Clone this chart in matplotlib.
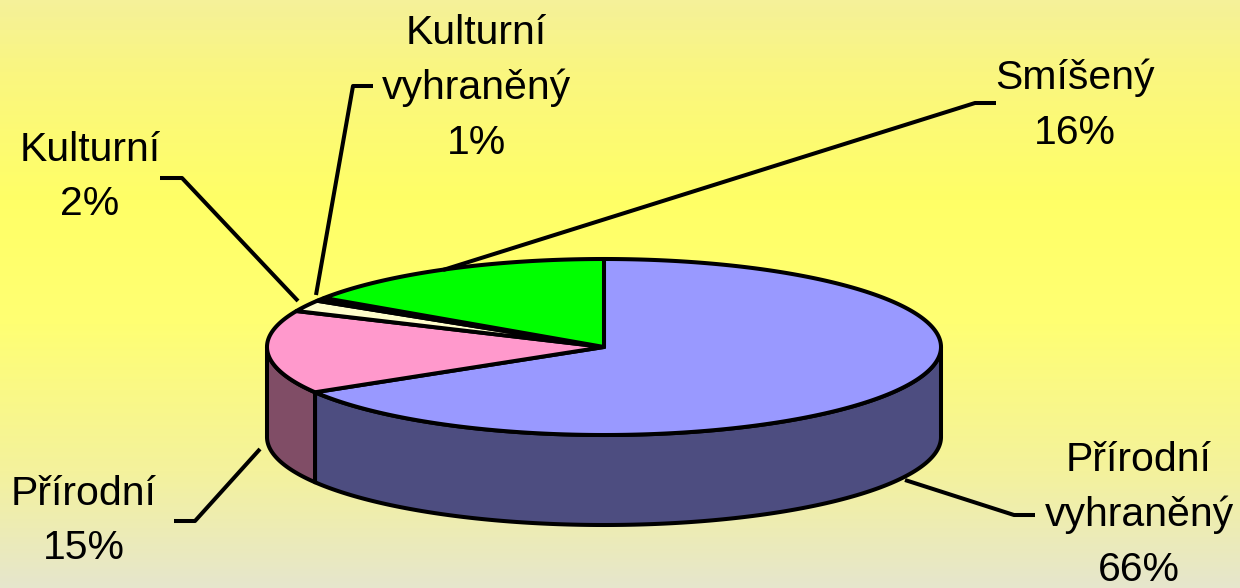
"""3D pie of landscape types, drawn on a full-figure pixel axes."""
import numpy as np
import matplotlib
matplotlib.use("Agg")
import matplotlib.pyplot as plt
from matplotlib.colors import LinearSegmentedColormap

plt.rcParams["font.family"] = ["Liberation Sans", "DejaVu Sans"]

# slices, clockwise from 12 o'clock
names = ["Přírodní\nvyhraněný", "Přírodní", "Kulturní", "Kulturní\nvyhraněný", "Smíšený"]
shares = [66.4, 15.3, 2.1, 0.6, 15.6]
top_colors = ["#9999FF", "#FF99CC", "#FFFFCC", "#CCFFFF", "#00FF00"]
side_colors = ["#4D4D80", "#804D66", "#808066", "#668080", "#008000"]

# label centres and leader lines, in image pixels
label_xy = [(1139, 514), (84, 520), (90, 176), (476, 87), (1075, 104)]
leaders = [
    [(1035, 515), (1014, 515), (905, 480)],
    [(174, 521), (195, 521), (260, 449)],
    [(160, 178), (182, 178), (298, 301)],
    [(373, 86), (353, 86), (316, 295)],
    [(996, 103), (975, 103), (443, 270)],
]

CX, CY = 604, 347
RX, RY = 337, 88
DEPTH = 90
LW = 2.9


def rim(a0, a1, drop=0):
    """Rim points between two clockwise-from-top angles (degrees)."""
    t = np.radians(np.linspace(a0, a1, max(int(abs(a1 - a0) * 2), 2)))
    return CX + RX * np.sin(t), CY - RY * np.cos(t) + drop


def main():
    fig = plt.figure(figsize=(12.4, 5.88), dpi=100)
    ax = fig.add_axes([0, 0, 1, 1])

    cmap = LinearSegmentedColormap.from_list("bg", [
        (0.0, "#F5F199"), (0.12, "#FAF680"), (0.34, "#FFFF66"),
        (0.55, "#FFFF73"), (0.8, "#F4F29C"), (1.0, "#E6E6CC"),
    ])
    ax.imshow(np.linspace(0, 1, 588).reshape(-1, 1), cmap=cmap, aspect="auto",
              extent=(0, 1240, 588, 0), zorder=0)

    edges = np.concatenate([[0], np.cumsum(shares)]) * 3.6

    # side walls: only the front half of the rim is visible
    for a0, a1, col in zip(edges[:-1], edges[1:], side_colors):
        lo, hi = max(a0, 90), min(a1, 270)
        if lo >= hi:
            continue
        x, y = rim(lo, hi)
        xs = np.concatenate([x, x[::-1]])
        ys = np.concatenate([y, (y + DEPTH)[::-1]])
        ax.fill(xs, ys, facecolor=col, edgecolor="black", lw=LW, zorder=2,
                joinstyle="round")

    # top face
    for a0, a1, col in zip(edges[:-1], edges[1:], top_colors):
        x, y = rim(a0, a1)
        ax.fill(np.r_[CX, x], np.r_[CY, y], facecolor=col, edgecolor="black",
                lw=LW, zorder=3, joinstyle="round")

    for pts in leaders:
        xs, ys = zip(*pts)
        ax.plot(xs, ys, color="black", lw=LW, zorder=4, solid_capstyle="butt")

    for name, share, (x, y) in zip(names, shares, label_xy):
        ax.text(x, y + 1, f"{name}\n{share:.0f}%", ha="center", va="center", fontsize=29.5,
                linespacing=1.55, color="black", zorder=5)

    ax.set_xlim(0, 1240)
    ax.set_ylim(588, 0)
    ax.axis("off")
    fig.savefig("out.png", dpi=100)
    plt.close(fig)


if __name__ == "__main__":
    main()
